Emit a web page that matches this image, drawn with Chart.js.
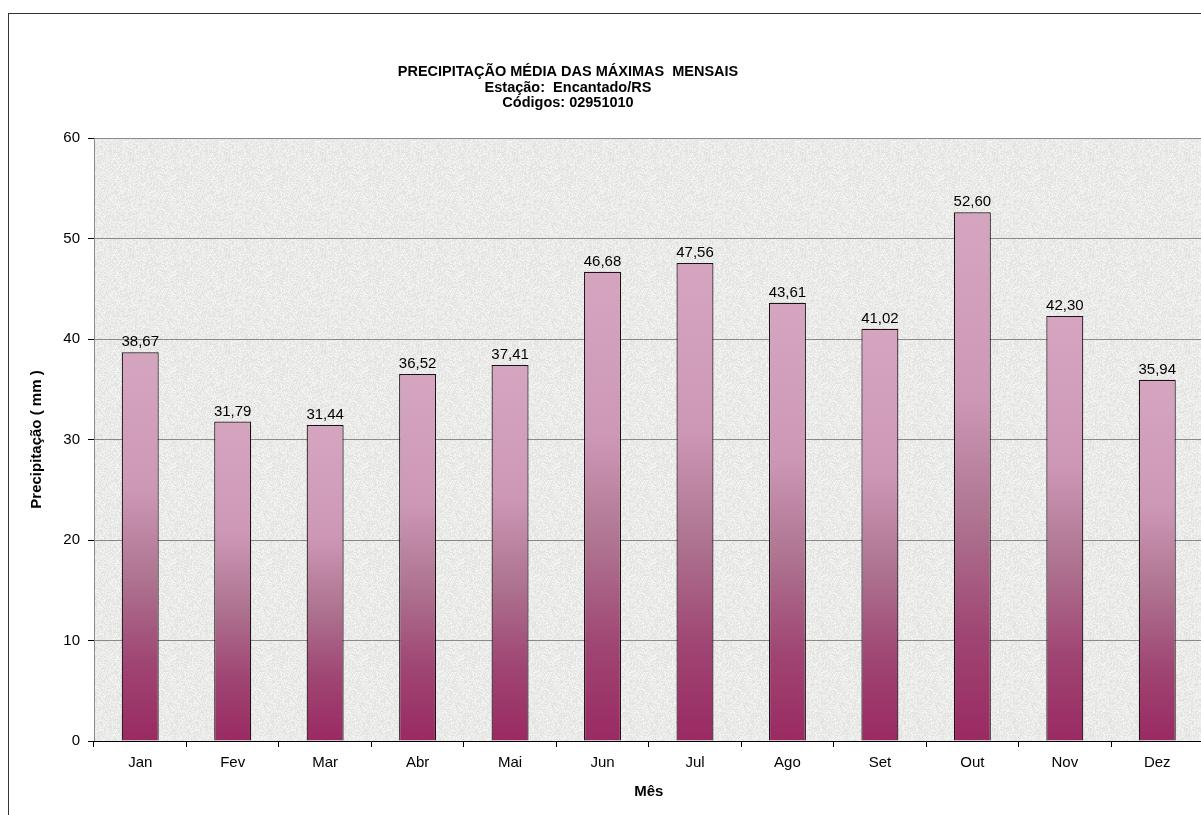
<!DOCTYPE html>
<html>
<head>
<meta charset="utf-8">
<script src="https://cdn.jsdelivr.net/npm/chart.js@4"></script>
<style>
  html, body { margin: 0; padding: 0; background: #fff; overflow: hidden; width: 1201px; height: 815px; }
  #wrap { position: absolute; left: 0; top: 0; width: 1230px; height: 830px; }
</style>
</head>
<body>
<div id="wrap"><canvas id="chart" width="1230" height="830"></canvas></div>
<script>
const months = ['Jan', 'Fev', 'Mar', 'Abr', 'Mai', 'Jun', 'Jul', 'Ago', 'Set', 'Out', 'Nov', 'Dez'];
const precipitation = [38.67, 31.79, 31.44, 36.52, 37.41, 46.68, 47.56, 43.61, 41.02, 52.60, 42.30, 35.94];
const titleLines = ['PRECIPITAÇÃO MÉDIA DAS MÁXIMAS  MENSAIS', 'Estação:  Encantado/RS', 'Códigos: 02951010'];

const canvas = document.getElementById('chart');
const fontFamily = '"Liberation Sans", Arial, sans-serif';

// light grey speckled texture for the plot area (deterministic hash noise)
function makeTexture() {
  const tile = document.createElement('canvas');
  tile.width = 96;
  tile.height = 96;
  const tctx = tile.getContext('2d');
  const img = tctx.createImageData(96, 96);
  let seed = 12345;
  for (let i = 0; i < 96 * 96; i++) {
    seed = (seed * 1103515245 + 12345) & 0x7fffffff;
    const n = (seed >> 16) % 24;
    const v = 223 + n;
    img.data[i * 4] = v;
    img.data[i * 4 + 1] = v;
    img.data[i * 4 + 2] = v - 2;
    img.data[i * 4 + 3] = 255;
  }
  tctx.putImageData(img, 0, 0);
  return tile;
}
const textureTile = makeTexture();

function barGradient(context) {
  const chart = context.chart;
  const yScale = chart.scales.y;
  if (!yScale || context.dataIndex === undefined) {
    return '#b87496';
  }
  const value = context.dataset.data[context.dataIndex];
  const top = yScale.getPixelForValue(value);
  const base = yScale.getPixelForValue(0);
  if (!Number.isFinite(top) || !Number.isFinite(base) || top === base) {
    return '#b87496';
  }
  const g = chart.ctx.createLinearGradient(0, top, 0, base);
  g.addColorStop(0, '#d5a5c0');
  g.addColorStop(0.35, '#cd98b6');
  g.addColorStop(0.58, '#ae7490');
  g.addColorStop(0.8, '#9f4573');
  g.addColorStop(1, '#9a2a62');
  return g;
}

const framePlugin = {
  id: 'frame',
  beforeDraw(chart) {
    const { ctx, chartArea } = chart;
    ctx.save();
    ctx.fillStyle = '#ffffff';
    ctx.fillRect(0, 0, chart.width, chart.height);
    ctx.strokeStyle = '#333333';
    ctx.lineWidth = 1;
    ctx.strokeRect(8.5, 13.5, chart.width, chart.height);
    ctx.fillStyle = ctx.createPattern(textureTile, 'repeat');
    ctx.fillRect(chartArea.left, chartArea.top, chartArea.right - chartArea.left, chartArea.bottom - chartArea.top);
    ctx.restore();
  },
  afterDraw(chart) {
    const { ctx } = chart;
    ctx.save();
    ctx.fillStyle = '#000';
    ctx.textAlign = 'center';
    ctx.textBaseline = 'middle';
    ctx.font = `bold 14.5px ${fontFamily}`;
    titleLines.forEach((line, i) => {
      ctx.fillText(line, 568, 72 + i * 15.5);
    });

    const meta = chart.getDatasetMeta(0);
    ctx.font = `15px ${fontFamily}`;
    ctx.textBaseline = 'alphabetic';
    meta.data.forEach((bar, i) => {
      const label = precipitation[i].toFixed(2).replace('.', ',');
      ctx.fillText(label, bar.x, bar.y - 6);
    });
    ctx.restore();
  },
};

new Chart(canvas, {
  type: 'bar',
  data: {
    labels: months,
    datasets: [
      {
        data: precipitation,
        backgroundColor: barGradient,
        borderColor: '#1c1116',
        borderWidth: 1.2,
        categoryPercentage: 0.8,
        barPercentage: 0.5,
      },
    ],
  },
  options: {
    responsive: false,
    animation: false,
    layout: { padding: { top: 138, left: 0, right: 26.5, bottom: 29 } },
    plugins: {
      legend: { display: false },
      tooltip: { enabled: false },
      title: { display: false },
    },
    scales: {
      y: {
        min: 0,
        max: 60,
        ticks: {
          stepSize: 10,
          color: '#000',
          padding: 8,
          font: { family: fontFamily, size: 15 },
        },
        grid: { color: '#8a8a8a', lineWidth: 1, tickColor: '#000', tickLength: 6 },
        border: { color: '#8a8a8a', width: 1 },
        title: {
          display: true,
          text: 'Precipitação ( mm )',
          color: '#000',
          font: { family: fontFamily, size: 15, weight: 'bold' },
          padding: { top: 28, bottom: 0 },
        },
        afterFit(scale) {
          scale.width = 94;
        },
      },
      x: {
        ticks: {
          color: '#000',
          padding: 7,
          font: { family: fontFamily, size: 15 },
        },
        grid: { drawOnChartArea: false, tickColor: '#000', tickLength: 6, offset: true },
        border: { color: '#000', width: 1 },
        title: {
          display: true,
          text: 'Mês',
          color: '#000',
          font: { family: fontFamily, size: 15, weight: 'bold' },
          padding: { top: 4, bottom: 0 },
        },
        afterFit(scale) {
          scale.height = 60;
        },
      },
    },
  },
  plugins: [framePlugin],
});
</script>
</body>
</html>
